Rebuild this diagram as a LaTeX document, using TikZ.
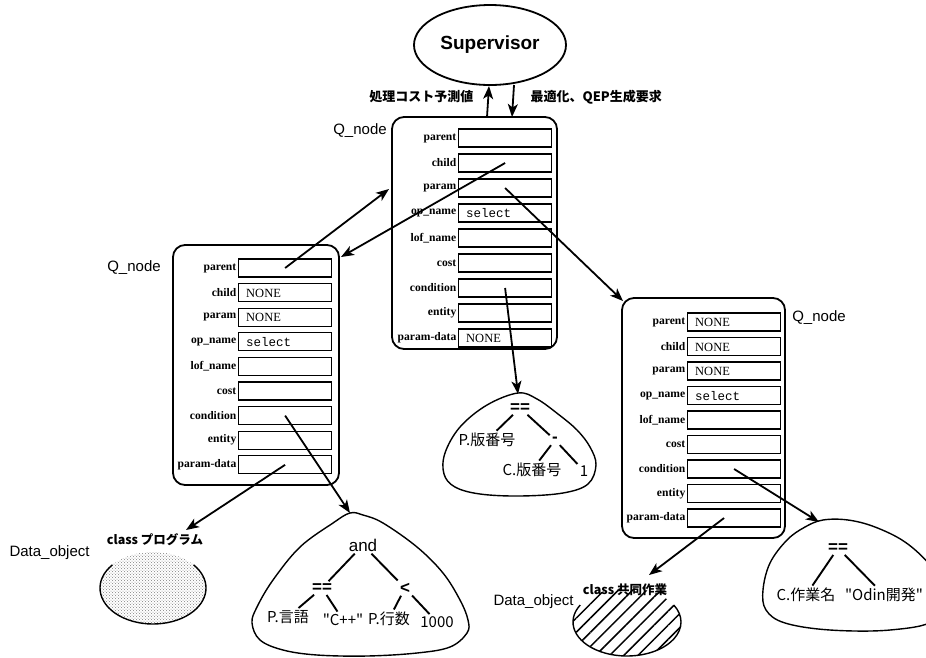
\documentclass[tikz,border=0pt]{standalone}
\usepackage{fontspec}
\newfontfamily\sansf{Liberation Sans}
\newfontfamily\jpf{Noto Sans CJK JP}
\newfontfamily\seriff{Liberation Serif}
\newfontfamily\monof{Liberation Mono}
\usetikzlibrary{arrows.meta,patterns,patterns.meta,calc,shapes.geometric}

% field values
\newcommand\valsel{{\monof\fontsize{12.5}{14}\selectfont select}}
\newcommand\valnone{{\seriff\fontsize{12.5}{14}\selectfont NONE}}

% one Q_node record: #1 prefix, #2 field x, #3 first row y, #4 row step,
% #5 parent, #6 child, #7 param, #8 param-data
\newcommand\qrecord[8]{%
  \foreach \lab [count=\i] in {parent,child,param,op\_name,lof\_name,cost,condition,entity,param-data}{
    \node[fieldbox] (#1-\i) at (#2,{#3+(\i-1)*#4}) {};
    \node[fieldlab] at (#1-\i.west) {\lab};
  }
  \node[fieldval] at ($(#1-1.west)+(8,4.5)$) {#5};
  \node[fieldval] at ($(#1-2.west)+(8,4.5)$) {#6};
  \node[fieldval] at ($(#1-3.west)+(8,4.5)$) {#7};
  \node[fieldval] at ($(#1-4.west)+(8,4.5)$) {\valsel};
  \node[fieldval] at ($(#1-9.west)+(8,4.5)$) {#8};
}

\begin{document}
\begin{tikzpicture}[x=1pt,y=-1pt,
  qbox/.style={draw, line width=1.8pt, rounded corners=12pt, inner sep=0pt},
  fieldbox/.style={draw, line width=1.2pt, minimum width=93pt, minimum height=18pt, inner sep=0pt, anchor=west},
  fieldlab/.style={anchor=east, inner sep=1.5pt, font=\seriff\bfseries\fontsize{11.6}{13}\selectfont},
  fieldval/.style={anchor=base west, inner sep=0pt},
  arr/.style={line width=1.8pt, -{Stealth[length=13pt,width=10pt,inset=3.5pt]}},
  blob/.style={line width=1.4pt},
  tree/.style={line width=1.9pt, shorten <=1pt, shorten >=1pt},
  tnode/.style={inner sep=1.5pt, font=\jpf\fontsize{15}{17}\selectfont},
  op/.style={inner sep=1.5pt, font=\sansf\bfseries\fontsize{17}{19}\selectfont},
  qlab/.style={font=\sansf\fontsize{15}{17}\selectfont},
  jlab/.style={font=\jpf\bfseries\fontsize{13}{15}\selectfont},
  clab/.style={font=\jpf\bfseries\fontsize{12.5}{14}\selectfont},
]
\useasboundingbox (0,0) rectangle (926,657);
\fill[white] (0,0) rectangle (926,657);
\clip (0,0) rectangle (926,657);

% ---- Supervisor and its two messages
\node[ellipse, draw, line width=1.8pt, minimum width=152pt, minimum height=80pt] (sup) at (490,45)
  {\sansf\bfseries\fontsize{19}{21}\selectfont Supervisor};
\coordinate (up-s) at (487,117);
\coordinate (up-e) at (489,86);
\coordinate (dn-s) at (514,85);
\coordinate (dn-e) at (512,117);
\draw[arr] (up-s) -- (up-e);
\draw[arr] (dn-s) -- (dn-e);
\node[jlab, anchor=east] (msg-cost) at (477,97) {処理コスト予測値};
\node[jlab, anchor=west] (msg-req) at (527,97) {最適化、QEP生成要求};

% ---- Q_node records
\node[qbox, minimum width=165pt, minimum height=232pt] (cq) at (474.5,233) {};
\qrecord{c}{458}{138}{25}{}{}{}{\valnone}
\node[qlab] (cq-name) at (360,131) {Q\_node};

\node[qbox, minimum width=166pt, minimum height=240pt] (lq) at (256,365) {};
\qrecord{l}{238}{268}{24.6}{}{\valnone}{\valnone}{}
\node[qlab] (lq-name) at (134,268) {Q\_node};

\node[qbox, minimum width=163pt, minimum height=240pt] (rq) at (703.5,418) {};
\qrecord{r}{687}{322}{24.5}{\valnone}{\valnone}{\valnone}{}
\node[qlab] (rq-name) at (819,318) {Q\_node};

% ---- pointers between records
\coordinate (cq-in) at (389,189);
\coordinate (lq-in) at (341,257);
\coordinate (rq-in) at (623,301);
\draw[arr] (l-1.center) -- (cq-in);
\draw[arr] (c-2.center) -- (lq-in);
\draw[arr] (c-3.center) -- (rq-in);

% ---- condition tree of the centre record
\draw[blob] plot[smooth cycle, tension=0.6] coordinates {
  (518,393) (487,405) (460,427) (445,453) (444,474) (455,487) (480,494) (520,496)
  (563,493) (588,484) (596,465) (590,447) (577,430) (558,414) (537,399)};
\coordinate (t1-top) at (518,394);
\draw[arr] (c-7.center) -- (t1-top);
\node[op] (t1-eq) at (520,408) {==};
\node[tnode] (t1-a) at (487,440) {P.版番号};
\node[op] (t1-m) at (555,440) {-};
\node[tnode] (t1-b) at (532,470) {C.版番号};
\node[tnode] (t1-c) at (584,471) {1};
\draw[tree] (t1-eq) -- (t1-a);
\draw[tree] (t1-eq) -- (t1-m);
\draw[tree] (t1-m) -- (t1-b);
\draw[tree] (t1-m) -- (t1-c);

% ---- condition tree of the left record
\draw[blob] plot[smooth cycle, tension=0.6] coordinates {
  (350,513) (333,523) (300,547) (273,580) (257,607) (252,623) (260,640) (283,650)
  (317,655) (367,656) (417,653) (450,647) (467,633) (468,620) (460,600) (443,573)
  (417,547) (383,523) (363,515)};
\coordinate (t2-top) at (350,513);
\draw[arr] (l-7.center) -- (t2-top);
\node[tnode, font=\sansf\fontsize{17}{19}\selectfont] (t2-and) at (363,545) {and};
\node[op] (t2-eq) at (322,588) {==};
\node[op] (t2-lt) at (405,588) {<};
\node[tnode] (t2-a) at (288,617) {P.言語};
\node[tnode] (t2-b) at (343,620) {"C++"};
\node[tnode] (t2-c) at (389,619) {P.行数};
\node[tnode] (t2-d) at (437,622) {1000};
\draw[tree] (t2-and) -- (t2-eq);
\draw[tree] (t2-and) -- (t2-lt);
\draw[tree] (t2-eq) -- (t2-a);
\draw[tree] (t2-eq) -- (t2-b);
\draw[tree] (t2-lt) -- (t2-c);
\draw[tree] (t2-lt) -- (t2-d);

% ---- condition tree of the right record
\draw[blob] plot[smooth cycle, tension=0.6] coordinates {
  (823,520) (805,527) (787,540) (770,563) (763,590) (766,610) (785,623) (830,630)
  (890,630) (935,620) (945,590) (930,565) (905,542) (875,527) (848,520)};
\coordinate (t3-top) at (819,522);
\draw[arr] (r-7.center) -- (t3-top);
\node[op] (t3-eq) at (838,548) {==};
\node[tnode] (t3-a) at (806,595) {C.作業名};
\node[tnode] (t3-b) at (884,595) {"Odin開発"};
\draw[tree] (t3-eq) -- (t3-a);
\draw[tree] (t3-eq) -- (t3-b);

% ---- data objects
\fill[pattern=crosshatch dots, pattern color=black!50] (153,588) ellipse [x radius=53, y radius=36];
\draw[blob] ($(153,588)+(220:53 and 36)$) arc[start angle=220, end angle=-40, x radius=53, y radius=36];
\node[clab] (d1-name) at (155,540) {class プログラム};
\node[qlab, anchor=west] (d1-kind) at (6,553) {Data\_object};
\coordinate (d1-top) at (186,530);
\draw[arr] (l-9.center) -- (d1-top);

\fill[pattern={Lines[angle=45,distance=10pt,line width=1.5pt]}] (627,622) ellipse [x radius=54, y radius=34];
\draw[blob] ($(627,622)+(210:54 and 34)$) arc[start angle=210, end angle=-30, x radius=54, y radius=34];
\node[clab] (d2-name) at (625,590) {class 共同作業};
\node[qlab, anchor=west] (d2-kind) at (490,602) {Data\_object};
\coordinate (d2-top) at (649,575);
\draw[arr] ($(r-9.center)+(-10,0)$) -- (d2-top);
\end{tikzpicture}
\end{document}
